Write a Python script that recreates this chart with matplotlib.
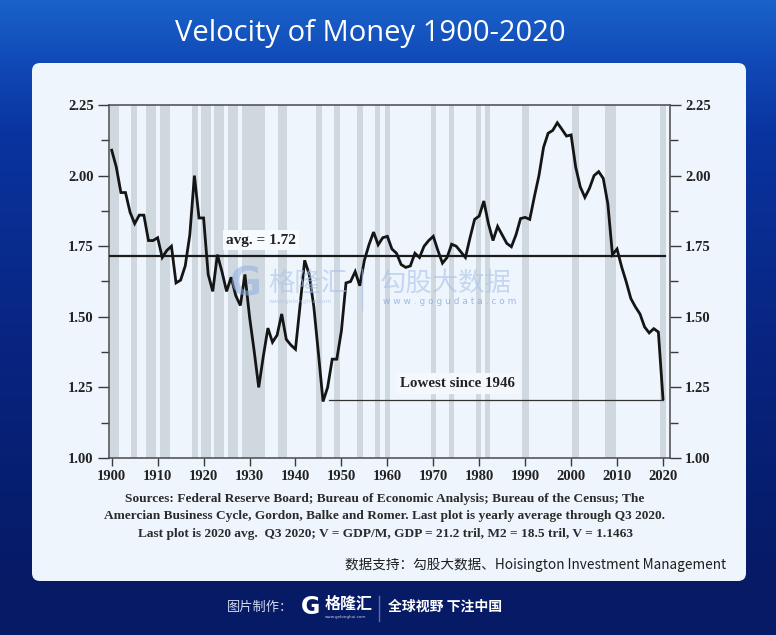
import numpy as np
import matplotlib
matplotlib.use("Agg")
import matplotlib.pyplot as plt
from matplotlib.patches import FancyBboxPatch
from matplotlib import font_manager

# ---- data ----
years = list(range(1900, 2021))
velocity = [
    2.09, 2.03, 1.94, 1.94, 1.87, 1.83, 1.86, 1.86, 1.77, 1.77,   # 1900s
    1.78, 1.71, 1.735, 1.75, 1.62, 1.63, 1.68, 1.79, 2.00, 1.85,  # 1910s
    1.85, 1.65, 1.59, 1.72, 1.66, 1.59, 1.64, 1.575, 1.54, 1.65,  # 1920s
    1.50, 1.38, 1.25, 1.36, 1.46, 1.41, 1.435, 1.51, 1.42, 1.40,  # 1930s
    1.385, 1.54, 1.70, 1.65, 1.535, 1.37, 1.20, 1.25, 1.35, 1.35, # 1940s
    1.45, 1.62, 1.625, 1.66, 1.61, 1.70, 1.755, 1.80, 1.755, 1.78, # 1950s
    1.785, 1.74, 1.725, 1.685, 1.675, 1.68, 1.725, 1.71, 1.75, 1.77, # 1960s
    1.785, 1.735, 1.69, 1.71, 1.757, 1.75, 1.73, 1.71, 1.78, 1.845, # 1970s
    1.857, 1.91, 1.83, 1.77, 1.82, 1.79, 1.76, 1.748, 1.79, 1.848, # 1980s
    1.852, 1.845, 1.925, 2.00, 2.10, 2.15, 2.16, 2.187, 2.164, 2.14, # 1990s
    2.144, 2.03, 1.96, 1.923, 1.955, 2.00, 2.014, 1.99, 1.90, 1.72,  # 2000s
    1.74, 1.677, 1.624, 1.565, 1.535, 1.51, 1.464, 1.443, 1.458, 1.446, # 2010s
    1.21,
]

# shaded recession bands (start, end)
rec_start = [1899.6, 1904.3, 1907.4, 1910.5, 1917.4, 1919.4, 1922.3, 1925.3, 1928.4,
             1936.2, 1944.5, 1948.4, 1953.4, 1957.4, 1959.5, 1969.4, 1973.4, 1979.2,
             1981.2, 1989.3, 2000.2, 2007.4, 2019.4]
rec_end = [1901.6, 1905.6, 1909.6, 1912.7, 1918.7, 1921.6, 1924.5, 1927.5, 1933.4,
           1938.2, 1945.7, 1949.6, 1954.6, 1958.5, 1960.6, 1970.6, 1974.6, 1980.4,
           1982.4, 1990.8, 2001.7, 2009.8, 2020.6]

avg_velocity = 1.716
low_level = 1.204
low_from, low_to = 1947.2, 2020.0

x_ticks = list(range(1900, 2021, 10))
y_ticks = [1.00, 1.25, 1.50, 1.75, 2.00, 2.25]

title = "Velocity of Money 1900-2020"
source_lines = [
    "Sources: Federal Reserve Board; Bureau of Economic Analysis; Bureau of the Census; The",
    "Amercian Business Cycle, Gordon, Balke and Romer. Last plot is yearly average through Q3 2020.",
    "Last plot is 2020 avg.  Q3 2020; V = GDP/M, GDP = 21.2 tril, M2 = 18.5 tril, V = 1.1463",
]
credit = "数据支持：勾股大数据、Hoisington Investment Management"

# ---- fonts ----
installed = {f.name for f in font_manager.fontManager.ttflist}
title_font = "Liberation Sans Narrow" if "Liberation Sans Narrow" in installed else "Open Sans"
title_size = 23 if title_font == "Liberation Sans Narrow" else 21
serif = "Liberation Serif"
cjk = ["Noto Sans CJK SC", "DejaVu Sans"]

W, H = 776, 635
fig = plt.figure(figsize=(W / 100, H / 100), dpi=100)

# background in pixel coordinates
bg = fig.add_axes([0, 0, 1, 1])
bg.set_xlim(0, W)
bg.set_ylim(H, 0)
bg.axis("off")
stops_y = [0, 60, 130, 350, 580, 635]
stops_c = np.array([[26, 98, 202], [17, 74, 184], [10, 52, 160],
                    [8, 36, 128], [6, 26, 102], [6, 26, 102]]) / 255.0
yy = np.arange(H)
grad = np.stack([np.interp(yy, stops_y, stops_c[:, k]) for k in range(3)], axis=-1)
bg.imshow(grad[:, None, :], extent=[0, W, H, 0], aspect="auto", zorder=0)

panel = FancyBboxPatch((32 + 8, 63 + 8), 714 - 16, 518 - 16,
                       boxstyle="round,pad=8", fc="#eef5fd", ec="none", zorder=1)
bg.add_patch(panel)

bg.text(370, 34, title, color="white", fontsize=title_size, family=title_font,
        ha="center", va="center", zorder=2)

for i, line in enumerate(source_lines):
    bg.text(385, 499 + i * 17.5, line, family=serif, fontweight="bold", fontsize=9.6,
            color="#2b2b2b", ha="center", va="center", zorder=2)

bg.text(726, 565, credit, family=cjk, fontsize=9.8, color="#1e1e1e",
        ha="right", va="center", zorder=2)

# footer
bg.text(293, 607, "图片制作：", family=cjk, fontsize=9.5, color="#d3daf0",
        ha="right", va="center", zorder=2)
bg.text(311, 607, "G", family="DejaVu Sans", fontweight="heavy", fontsize=17,
        color="white", ha="center", va="center", zorder=2)
bg.text(325, 604, "格隆汇", family=cjk, fontweight="bold", fontsize=11.5,
        color="white", ha="left", va="center", zorder=2)
bg.text(346, 617, "www.gelonghui.com", family="DejaVu Sans", fontsize=3,
        color="#c8d0ea", ha="center", va="center", zorder=2)
bg.plot([379, 379], [596, 621], color="#5e6fa6", lw=1, zorder=2)
bg.text(388, 607, "全球视野 下注中国", family=cjk, fontweight="bold", fontsize=10,
        color="white", ha="left", va="center", zorder=2)

# ---- main chart ----
x0, x1, y0, y1 = 109, 670, 105, 458
ax = fig.add_axes([x0 / W, 1 - y1 / H, (x1 - x0) / W, (y1 - y0) / H])
ax.set_facecolor("#eef5fd")
ax.set_xlim(1899.41, 2021.53)
ax.set_ylim(1.0, 2.25)

for s, e in zip(rec_start, rec_end):
    ax.axvspan(s, e, color="#cfd7df", lw=0, zorder=1)

ax.plot([1899.6, 2020.4], [avg_velocity, avg_velocity], color="#1c1c1c", lw=1.6, zorder=3)
ax.plot([low_from, low_to], [low_level, low_level], color="#333333", lw=0.9, zorder=3)
ax.plot(years, velocity, color="#151515", lw=2.0, zorder=4, solid_joinstyle="miter")

ax.text(1932.5, 1.771, "avg. = 1.72", family=serif, fontweight="bold", fontsize=11,
        color="#222222", ha="center", va="center", zorder=5,
        bbox=dict(fc="#f7fbff", ec="none", pad=2.5))
ax.text(1975.3, 1.263, "Lowest since 1946", family=serif, fontweight="bold", fontsize=10.8,
        color="#222222", ha="center", va="center", zorder=5,
        bbox=dict(fc="#f4f8fd", ec="none", pad=3))

ax.set_xticks(x_ticks)
ax.set_yticks(y_ticks)
ax.set_yticklabels(["%.2f" % v for v in y_ticks])
ax.set_yticks(np.arange(1.0, 2.26, 0.125), minor=True)
ax.tick_params(axis="both", which="both", direction="out", colors="#3a3a3a",
               width=1.0, labelcolor="#222222")
ax.tick_params(axis="y", which="both", left=True, right=True,
               labelleft=True, labelright=True)
ax.tick_params(axis="y", which="major", length=8, pad=3)
ax.tick_params(axis="y", which="minor", length=6)
ax.tick_params(axis="x", which="major", length=6, pad=3)
for lab in ax.get_xticklabels() + ax.get_yticklabels():
    lab.set_family(serif)
    lab.set_fontweight("bold")
    lab.set_fontsize(10.5)
for sp in ax.spines.values():
    sp.set_color("#4a4a4a")
    sp.set_linewidth(1.1)

# ---- watermark overlay ----
wm = fig.add_axes([0, 0, 1, 1], facecolor="none")
wm.set_xlim(0, W)
wm.set_ylim(H, 0)
wm.axis("off")
wm.text(245, 285, "G", family="DejaVu Sans", fontweight="heavy", fontsize=28,
        color="#8fb0e0", alpha=0.55, ha="center", va="center")
wm.text(268, 283, "格隆汇", family=cjk, fontsize=19, color="#a9c2e8", alpha=0.6,
        ha="left", va="center")
wm.text(300, 302, "www.gelonghui.com", family="DejaVu Sans", fontsize=4.5,
        color="#a9c2e8", alpha=0.7, ha="center", va="center")
wm.plot([362, 362], [269, 310], color="#a9c2e8", alpha=0.6, lw=1)
wm.text(380, 283, "勾股大数据", family=cjk, fontsize=19, color="#a9c2e8", alpha=0.6,
        ha="left", va="center")
wm.text(383, 302, "w w w . g o g u d a t a . c o m", family="DejaVu Sans", fontsize=6.5,
        color="#7f9fd6", alpha=0.7, ha="left", va="center")

fig.savefig("out.png", dpi=100)
